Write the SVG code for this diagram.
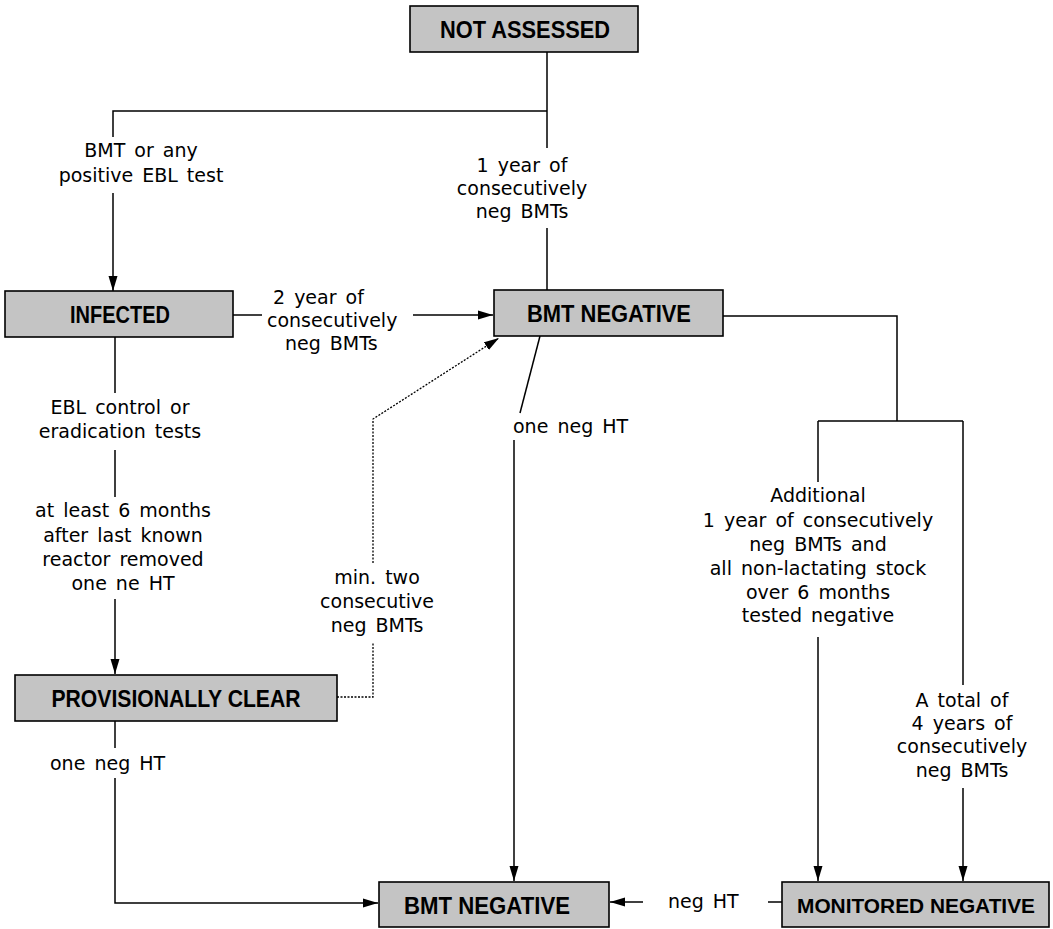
<svg xmlns="http://www.w3.org/2000/svg" width="1053" height="929" viewBox="0 0 1053 929">
<style>
.box{fill:#c4c4c4;stroke:#000;stroke-width:1.6}
.nt{font-family:"Liberation Sans",Arial,sans-serif;font-weight:bold;font-size:23px;fill:#000;text-anchor:middle}
.lb{font-family:"DejaVu Sans",sans-serif;font-size:19px;fill:#000;word-spacing:3px}
.c{text-anchor:middle}
.ln{fill:none;stroke:#000;stroke-width:1.5}
.dt{fill:none;stroke:#000;stroke-width:1.3;stroke-dasharray:2 1.5}
</style>
<defs>
<marker id="ah" markerUnits="userSpaceOnUse" markerWidth="16" markerHeight="10" refX="15" refY="5" orient="auto">
<path d="M0,0.5 L15,5 L0,9.5 Z" fill="#000"/>
</marker>
</defs>
<rect width="1053" height="929" fill="#fff"/>

<g id="connectors">
<path class="ln" d="M547,52 V148 M547,228 V290"/>
<path class="ln" d="M547,111 H113 V137"/>
<path class="ln" d="M113,193 V291" marker-end="url(#ah)"/>
<path class="ln" d="M233,315 H262"/>
<path class="ln" d="M413,315 H493" marker-end="url(#ah)"/>
<path class="ln" d="M115,337 V393 M115,450 V497"/>
<path class="ln" d="M115,599 V674" marker-end="url(#ah)"/>
<path class="ln" d="M115,721 V748"/>
<path class="ln" d="M115,778 V903 H378" marker-end="url(#ah)"/>
<path class="dt" d="M337,697 H373 V642"/>
<path class="dt" d="M373,563 V419 L499,338" marker-end="url(#ah)"/>
<path class="ln" d="M540,336 L520,413"/>
<path class="ln" d="M514,440 V881" marker-end="url(#ah)"/>
<path class="ln" d="M723,316 H897 V421 M818,421 H963"/>
<path class="ln" d="M818,421 V482"/>
<path class="ln" d="M818,637 V881" marker-end="url(#ah)"/>
<path class="ln" d="M963,421 V685"/>
<path class="ln" d="M963,788 V881" marker-end="url(#ah)"/>
<path class="ln" d="M782,902 H768"/>
<path class="ln" d="M643,902 H610" marker-end="url(#ah)"/>
</g>

<g id="labels">
<text class="lb c" x="141" y="157">BMT or any</text>
<text class="lb c" x="141" y="182">positive EBL test</text>
<text class="lb c" x="522" y="172">1 year of</text>
<text class="lb c" x="522" y="195">consecutively</text>
<text class="lb c" x="522" y="218">neg BMTs</text>
<text class="lb" x="273" y="304">2 year of</text>
<text class="lb" x="267" y="327">consecutively</text>
<text class="lb" x="285" y="350">neg BMTs</text>
<text class="lb c" x="120" y="414">EBL control or</text>
<text class="lb c" x="120" y="438">eradication tests</text>
<text class="lb c" x="123" y="517">at least 6 months</text>
<text class="lb c" x="123" y="542">after last known</text>
<text class="lb c" x="123" y="566">reactor removed</text>
<text class="lb c" x="123" y="590">one ne HT</text>
<text class="lb" x="513" y="433">one neg HT</text>
<text class="lb c" x="377" y="584">min. two</text>
<text class="lb c" x="377" y="608">consecutive</text>
<text class="lb c" x="377" y="632">neg BMTs</text>
<text class="lb c" x="818" y="502">Additional</text>
<text class="lb c" x="818" y="527">1 year of consecutively</text>
<text class="lb c" x="818" y="551">neg BMTs and</text>
<text class="lb c" x="818" y="575">all non-lactating stock</text>
<text class="lb c" x="818" y="599">over 6 months</text>
<text class="lb c" x="818" y="622">tested negative</text>
<text class="lb c" x="962" y="707">A total of</text>
<text class="lb c" x="962" y="730">4 years of</text>
<text class="lb c" x="962" y="753">consecutively</text>
<text class="lb c" x="962" y="777">neg BMTs</text>
<text class="lb" x="50" y="770">one neg HT</text>
<text class="lb" x="668" y="908">neg HT</text>
</g>

<g id="not-assessed">
<rect class="box" x="410" y="6" width="228" height="46"/>
<text class="nt" x="525" y="38" textLength="170" lengthAdjust="spacingAndGlyphs">NOT ASSESSED</text>
</g>
<g id="infected">
<rect class="box" x="5" y="291" width="228" height="46"/>
<text class="nt" x="120" y="323" textLength="100" lengthAdjust="spacingAndGlyphs">INFECTED</text>
</g>
<g id="bmt-negative-1">
<rect class="box" x="494" y="290" width="229" height="46"/>
<text class="nt" x="609" y="322" textLength="164" lengthAdjust="spacingAndGlyphs">BMT NEGATIVE</text>
</g>
<g id="provisionally-clear">
<rect class="box" x="15" y="675" width="322" height="46"/>
<text class="nt" x="176" y="707" textLength="249" lengthAdjust="spacingAndGlyphs">PROVISIONALLY CLEAR</text>
</g>
<g id="bmt-negative-2">
<rect class="box" x="379" y="882" width="230" height="45"/>
<text class="nt" x="487" y="914" textLength="166" lengthAdjust="spacingAndGlyphs">BMT NEGATIVE</text>
</g>
<g id="monitored-negative">
<rect class="box" x="782" y="882" width="267" height="45"/>
<text class="nt" x="916" y="913" style="font-size:21px" textLength="238" lengthAdjust="spacingAndGlyphs">MONITORED NEGATIVE</text>
</g>
</svg>
